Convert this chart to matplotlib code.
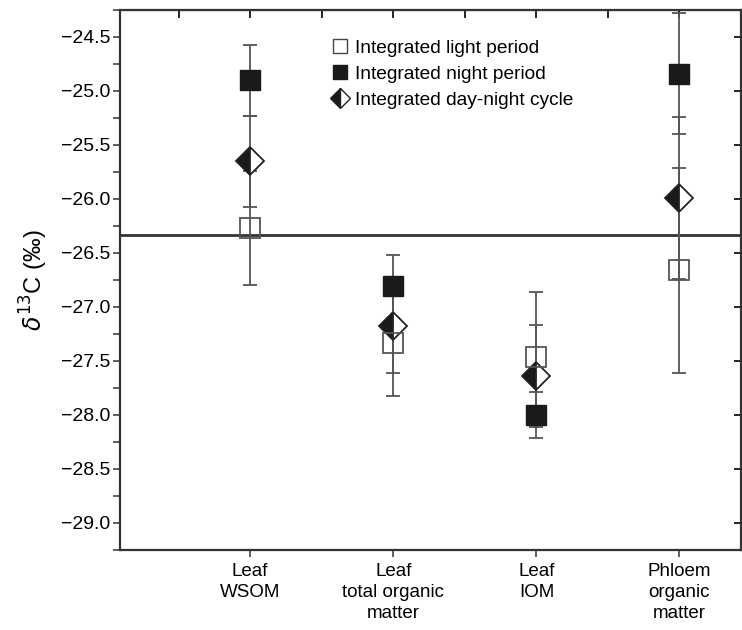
import numpy as np
import matplotlib.pyplot as plt
from matplotlib.lines import Line2D

plt.rcParams['font.family'] = ['Liberation Sans', 'DejaVu Sans']

# DATA
categories = ['Leaf\nWSOM', 'Leaf\ntotal organic\nmatter', 'Leaf\nIOM', 'Phloem\norganic\nmatter']
light_mean = [-26.27, -27.33, -27.46, -26.66]
light_err = [0.53, 0.49, 0.60, 0.95]
night_mean = [-24.90, -26.81, -28.00, -24.84]
night_err = [0.33, 0.29, 0.21, 0.56]
cycle_mean = [-25.65, -27.18, -27.64, -25.99]
cycle_err = [0.42, 0.43, 0.47, 0.75]
ref_line = -26.33

x = np.arange(1, len(categories) + 1)

fig = plt.figure(figsize=(7.42, 6.3), dpi=100)
ax = fig.add_axes([120/742, 1-550/630, 621/742, 540/630])

ecol = '#555555'
ax.axhline(ref_line, color='#333333', lw=2, zorder=1)

# error bars first, markers on top
for m, e in [(light_mean, light_err), (night_mean, night_err), (cycle_mean, cycle_err)]:
    ax.errorbar(x, m, yerr=e, fmt='none', ecolor=ecol, elinewidth=1.3, capsize=5, capthick=1.3, zorder=2)

ax.plot(x, night_mean, ls='none', marker='s', ms=14, mfc='#1a1a1a', mec='#1a1a1a', zorder=3)
ax.plot(x, cycle_mean, ls='none', marker='D', ms=14, fillstyle='left', mfc='#1a1a1a',
        markerfacecoloralt='white', mec='#222222', mew=1.3, zorder=4)
ax.plot(x, light_mean, ls='none', marker='s', ms=14, mfc='none', mec='#555555', mew=1.3, zorder=5)

ax.set_xlim(0.09, 4.43)
ax.set_ylim(-29.25, -24.25)
ax.set_xticks(x)
ax.set_xticklabels(categories, fontsize=13.5, linespacing=1.32)
yt = np.arange(-29.0, -24.4, 0.5)
ax.set_yticks(yt)
ax.set_yticklabels(['\u2212%.1f' % abs(v) for v in yt], fontsize=14)
ax.set_yticks(np.arange(-29.25, -24.2, 0.25), minor=True)
ax.tick_params(axis='both', which='both', direction='out', length=5, width=1.2, color='#444444')
ax.tick_params(axis='x', pad=4)
ax.tick_params(axis='y', pad=2)

for s in ax.spines.values():
    s.set_linewidth(1.6)
    s.set_color('#333333')

top = ax.secondary_xaxis('top')
top.set_xticks(x)
top.set_xticks([0.5, 1.5, 2.5, 3.5], minor=True)
top.set_xticklabels([])
top.tick_params(which='both', direction='in', length=6, width=1.2)

right = ax.secondary_yaxis('right')
right.set_yticks(yt)
right.set_yticks([], minor=True)
right.set_yticklabels([])
right.tick_params(direction='in', length=5, width=1.2)

ax.set_ylabel(r'$\delta^{13}$C (‰)', fontsize=17, labelpad=8)

handles = [
    Line2D([], [], ls='none', marker='s', ms=10, mfc='none', mec='#444444'),
    Line2D([], [], ls='none', marker='s', ms=10, mfc='#1a1a1a', mec='#1a1a1a'),
    Line2D([], [], ls='none', marker='D', ms=10, fillstyle='left', mfc='#1a1a1a',
           markerfacecoloralt='white', mec='#222222'),
]
labels = ['Integrated light period', 'Integrated night period', 'Integrated day-night cycle']
ax.legend(handles, labels, loc='upper left', bbox_to_anchor=(0.3135, 0.978), frameon=False,
          fontsize=13.8, handlelength=0.8, handletextpad=0.4, labelspacing=0.45)

plt.savefig('out.png', dpi=100)
